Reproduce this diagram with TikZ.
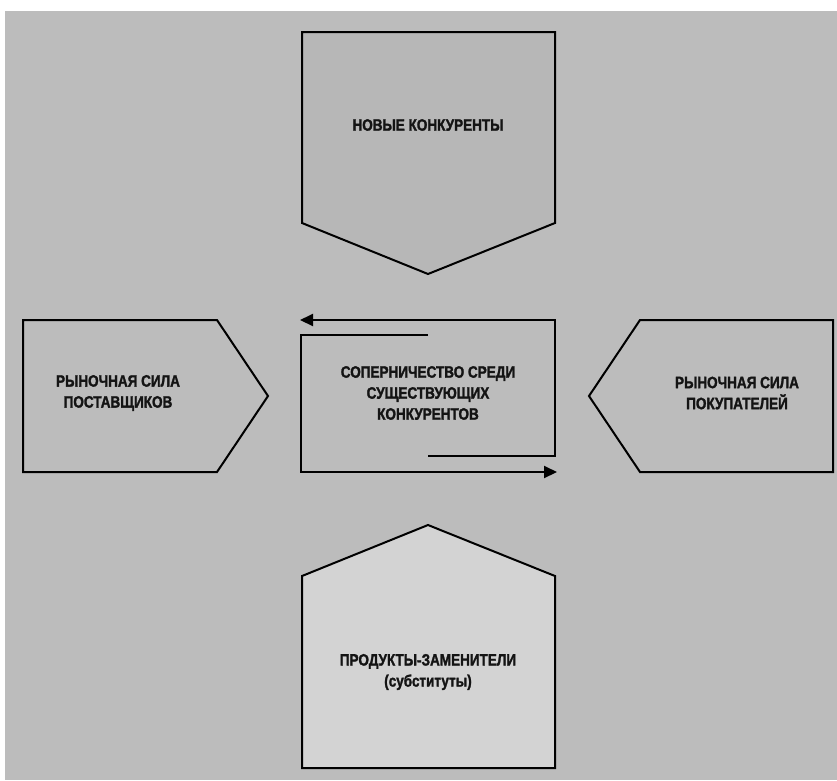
\documentclass[tikz,border=0pt]{standalone}
\usepackage{fontspec}
\newfontfamily\condbold{Liberation Sans Bold}[FakeStretch=0.82,FakeBold=1.6]
\usetikzlibrary{arrows.meta}
\definecolor{bgray}{RGB}{188,188,188}
\definecolor{topgray}{RGB}{183,183,183}
\definecolor{botgray}{RGB}{211,211,211}
\begin{document}
\begin{tikzpicture}[x=1pt,y=-1pt,
  shapebox/.style={draw=black,line width=2pt,line join=miter},
  lbl/.style={font=\condbold\fontsize{16.5}{21}\selectfont,align=center,text=black!92,inner sep=0pt},
  flow/.style={draw=black,line width=2pt,-{Triangle[length=13pt,width=12pt]}}]
\fill[white] (0,0) rectangle (837,780);
\fill[bgray] (5,11) rectangle (837,780);
\useasboundingbox (0,0) rectangle (837,780);
% top
\draw[shapebox,fill=topgray] (302,32) -- (555,32) -- (555,223) -- (428,274) -- (302,223) -- cycle;
% left
\draw[shapebox,fill=bgray] (23,320) -- (217,320) -- (268,396) -- (217,472) -- (23,472) -- cycle;
% right
\draw[shapebox,fill=bgray] (640,320) -- (833,320) -- (833,472) -- (640,472) -- (589,396) -- cycle;
% bottom
\draw[shapebox,fill=botgray] (428,525) -- (555,576) -- (555,768) -- (302,768) -- (302,576) -- cycle;
% centre
\coordinate (a0) at (428,335);
\coordinate (a1) at (301,335);
\coordinate (a2) at (301,472);
\coordinate (a3) at (557,472);
\coordinate (b0) at (428,456);
\coordinate (b1) at (555,456);
\coordinate (b2) at (555,320);
\coordinate (b3) at (300,320);
\draw[flow] (a0) -- (a1) -- (a2) -- (a3);
\draw[flow] (b0) -- (b1) -- (b2) -- (b3);
% labels
\node[lbl] (nk) at (428,125) {НОВЫЕ КОНКУРЕНТЫ};
\node[lbl] (sk) at (428,393) {СОПЕРНИЧЕСТВО СРЕДИ\\СУЩЕСТВУЮЩИХ\\КОНКУРЕНТОВ};
\node[lbl] (ps) at (118,393) {РЫНОЧНАЯ СИЛА\\ПОСТАВЩИКОВ};
\node[lbl] (pk) at (737,393) {РЫНОЧНАЯ СИЛА\\ПОКУПАТЕЛЕЙ};
\node[lbl] (pz) at (428,672) {ПРОДУКТЫ-ЗАМЕНИТЕЛИ\\(субституты)};
\end{tikzpicture}
\end{document}
